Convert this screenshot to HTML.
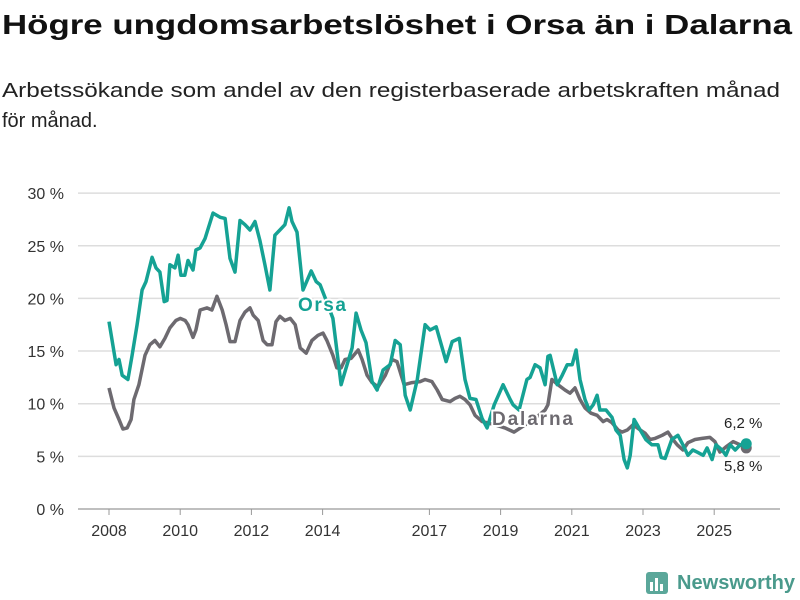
<!DOCTYPE html>
<html><head><meta charset="utf-8"><style>
body{margin:0;background:#fff;}
svg{display:block;font-family:"Liberation Sans",sans-serif;}
</style></head><body>
<svg id="chart" width="800" height="600">
<text x="2" y="34" font-size="28" font-weight="bold" fill="#111" textLength="790" lengthAdjust="spacingAndGlyphs">Högre ungdomsarbetslöshet i Orsa än i Dalarna</text>
<text x="2" y="97" font-size="20" fill="#222" textLength="778" lengthAdjust="spacingAndGlyphs">Arbetssökande som andel av den registerbaserade arbetskraften månad</text>
<text x="2" y="127" font-size="20" fill="#222">för månad.</text>
<g id="grid"></g><g id="lines"></g><g id="labels"></g>
<g>
<rect x="646" y="572" width="22" height="22" rx="3" fill="#5ba79a"/>
<rect x="650" y="582" width="3" height="9" fill="#fff"/><rect x="655" y="578" width="3" height="13" fill="#fff"/><rect x="660" y="584" width="3" height="7" fill="#fff"/>
<text x="677" y="589" font-size="20" font-weight="bold" fill="#4a9a8c" textLength="118" lengthAdjust="spacingAndGlyphs">Newsworthy</text>
</g>
</svg>
<script>
const yTicks=[0,5,10,15,20,25,30];
const xTicks=[2008,2010,2012,2014,2017,2019,2021,2023,2025];
const orsaT=[2008.00,2008.20,2008.28,2008.37,2008.53,2008.65,2008.79,2008.93,2009.04,2009.21,2009.32,2009.43,2009.55,2009.63,2009.71,2009.85,2009.94,2010.02,2010.13,2010.22,2010.36,2010.44,2010.56,2010.70,2010.92,2011.12,2011.26,2011.40,2011.54,2011.68,2011.82,2011.96,2012.10,2012.24,2012.38,2012.52,2012.66,2012.80,2012.94,2013.06,2013.14,2013.28,2013.45,2013.68,2013.82,2013.93,2014.10,2014.29,2014.52,2014.83,2014.94,2015.08,2015.22,2015.39,2015.53,2015.70,2015.90,2016.04,2016.18,2016.32,2016.46,2016.66,2016.88,2017.02,2017.19,2017.30,2017.47,2017.64,2017.84,2018.00,2018.14,2018.31,2018.48,2018.62,2018.82,2019.07,2019.27,2019.35,2019.52,2019.74,2019.83,2019.97,2020.11,2020.25,2020.33,2020.39,2020.59,2020.73,2020.87,2021.01,2021.12,2021.23,2021.37,2021.49,2021.60,2021.71,2021.79,2021.96,2022.13,2022.24,2022.36,2022.47,2022.56,2022.64,2022.75,2022.92,2023.08,2023.25,2023.42,2023.51,2023.62,2023.81,2023.98,2024.12,2024.26,2024.40,2024.52,2024.69,2024.80,2024.94,2025.05,2025.22,2025.33,2025.45,2025.59,2025.73,2025.90];
const orsaV=[17.8,13.7,14.2,12.7,12.3,14.6,17.5,20.8,21.6,23.9,22.9,22.5,19.7,19.8,23.2,22.9,24.1,22.2,22.2,23.6,22.7,24.6,24.8,25.7,28.1,27.7,27.6,23.8,22.5,27.4,27.0,26.5,27.3,25.5,23.2,20.8,26.0,26.5,27.0,28.6,27.3,26.3,20.8,22.6,21.6,21.3,19.8,18.1,11.8,15.3,18.6,17.0,15.8,12.1,11.3,13.2,13.7,16.0,15.6,10.8,9.4,12.3,17.5,17.0,17.3,16.0,14.0,15.9,16.2,12.3,10.5,10.4,8.6,7.7,9.9,11.8,10.4,9.9,9.4,12.3,12.5,13.7,13.4,11.8,14.5,14.6,11.8,12.7,13.7,13.7,15.1,12.3,10.4,9.4,9.9,10.8,9.4,9.4,8.7,7.5,7.0,4.7,3.9,5.1,8.5,7.5,6.6,6.1,6.1,4.9,4.8,6.6,7.0,6.1,5.1,5.6,5.4,5.1,5.8,4.7,6.1,5.6,5.1,6.1,5.6,6.1,6.2];
const dalT=[2008.00,2008.14,2008.28,2008.39,2008.51,2008.62,2008.70,2008.84,2009.01,2009.15,2009.29,2009.43,2009.57,2009.71,2009.88,2010.00,2010.14,2010.22,2010.36,2010.44,2010.56,2010.75,2010.89,2011.03,2011.18,2011.29,2011.40,2011.54,2011.68,2011.82,2011.96,2012.05,2012.19,2012.33,2012.44,2012.58,2012.69,2012.80,2012.94,2013.09,2013.23,2013.37,2013.54,2013.70,2013.87,2014.01,2014.12,2014.29,2014.40,2014.52,2014.63,2014.80,2015.00,2015.11,2015.25,2015.39,2015.56,2015.76,2015.95,2016.09,2016.29,2016.51,2016.74,2016.88,2017.07,2017.22,2017.36,2017.58,2017.72,2017.86,2018.00,2018.14,2018.28,2018.48,2018.62,2018.84,2019.12,2019.38,2019.69,2019.97,2020.25,2020.33,2020.44,2020.61,2020.81,2020.95,2021.09,2021.23,2021.37,2021.54,2021.71,2021.88,2021.99,2022.13,2022.30,2022.41,2022.56,2022.72,2022.92,2023.06,2023.20,2023.34,2023.54,2023.70,2023.84,2023.96,2024.12,2024.26,2024.46,2024.66,2024.88,2025.02,2025.16,2025.33,2025.53,2025.73,2025.90];
const dalV=[11.5,9.6,8.5,7.6,7.7,8.5,10.4,11.8,14.6,15.6,16.0,15.4,16.2,17.2,17.9,18.1,17.9,17.5,16.3,17.0,18.9,19.1,18.9,20.2,18.9,17.5,15.9,15.9,17.9,18.7,19.1,18.4,17.9,16.0,15.6,15.6,17.8,18.3,17.9,18.1,17.5,15.3,14.8,16.0,16.5,16.7,16.0,14.6,13.4,13.4,14.2,14.3,15.1,14.2,12.7,12.0,11.6,12.7,14.2,14.0,11.8,12.0,12.1,12.3,12.1,11.3,10.4,10.2,10.5,10.7,10.4,9.9,8.9,8.3,8.2,8.0,7.7,7.3,8.0,8.6,9.4,9.9,12.3,11.8,11.3,11.0,11.5,10.4,9.6,9.1,8.9,8.3,8.5,8.2,7.5,7.3,7.5,8.0,7.5,7.2,6.6,6.7,7.0,7.3,6.6,6.1,5.6,6.3,6.6,6.7,6.8,6.4,5.4,5.9,6.4,6.1,5.8];
const NS="http://www.w3.org/2000/svg";
const X=t=>109+(t-2008)*35.6;
const Y=v=>509-v*10.53;
function mk(tag,attrs,parent,txt){const e=document.createElementNS(NS,tag);for(const k in attrs)e.setAttribute(k,attrs[k]);if(txt!==undefined)e.textContent=txt;parent.appendChild(e);return e;}
const grid=document.getElementById('grid'),lines=document.getElementById('lines'),labels=document.getElementById('labels');
yTicks.forEach(v=>{
 const l=mk('line',{x1:78,x2:780,y1:Y(v),y2:Y(v),stroke:v===0?'#999':'#ddd','stroke-width':v===0?1.2:1.5},grid);
 
 
 const t=mk('text',{x:64,y:Y(v)+6,'text-anchor':'end','font-size':16,fill:'#333'},grid,v+' %');
 
 
});
xTicks.forEach(yr=>{
 const l=mk('line',{x1:X(yr),x2:X(yr),y1:509,y2:515,stroke:'#999'},grid);
 
 
 const t=mk('text',{x:X(yr),y:536,'text-anchor':'middle','font-size':16,fill:'#333'},grid,String(yr));
 
 
});
function path(ts,vs){return ts.map((t,i)=>(i?'L':'M')+X(t).toFixed(1)+','+Y(vs[i]).toFixed(1)).join('');}
const dl=mk('path',{d:path(dalT,dalV),fill:'none',stroke:'#6d6a70','stroke-width':3.5,'stroke-linejoin':'round'},lines);


const ol=mk('path',{d:path(orsaT,orsaV),fill:'none',stroke:'#15a294','stroke-width':3.5,'stroke-linejoin':'round'},lines);


const dm=mk('circle',{cx:X(dalT[dalT.length-1]),cy:Y(dalV[dalV.length-1]),r:5.5,fill:'#6d6a70'},lines);


const om=mk('circle',{cx:X(orsaT[orsaT.length-1]),cy:Y(orsaV[orsaV.length-1]),r:5.5,fill:'#15a294'},lines);


const lo=mk('text',{x:298,y:311,'font-size':19,'font-weight':'bold',fill:'#15a294',stroke:'#fff','stroke-width':4,'paint-order':'stroke',textLength:48},labels,'Orsa');


const ld=mk('text',{x:492,y:425,'font-size':19,'font-weight':'bold',fill:'#6d6a70',stroke:'#fff','stroke-width':4,'paint-order':'stroke',textLength:81},labels,'Dalarna');


const lv1=mk('text',{x:724,y:428,'font-size':15,fill:'#222'},labels,'6,2 %');


const lv2=mk('text',{x:724,y:471,'font-size':15,fill:'#222'},labels,'5,8 %');


</script>
</body></html>
